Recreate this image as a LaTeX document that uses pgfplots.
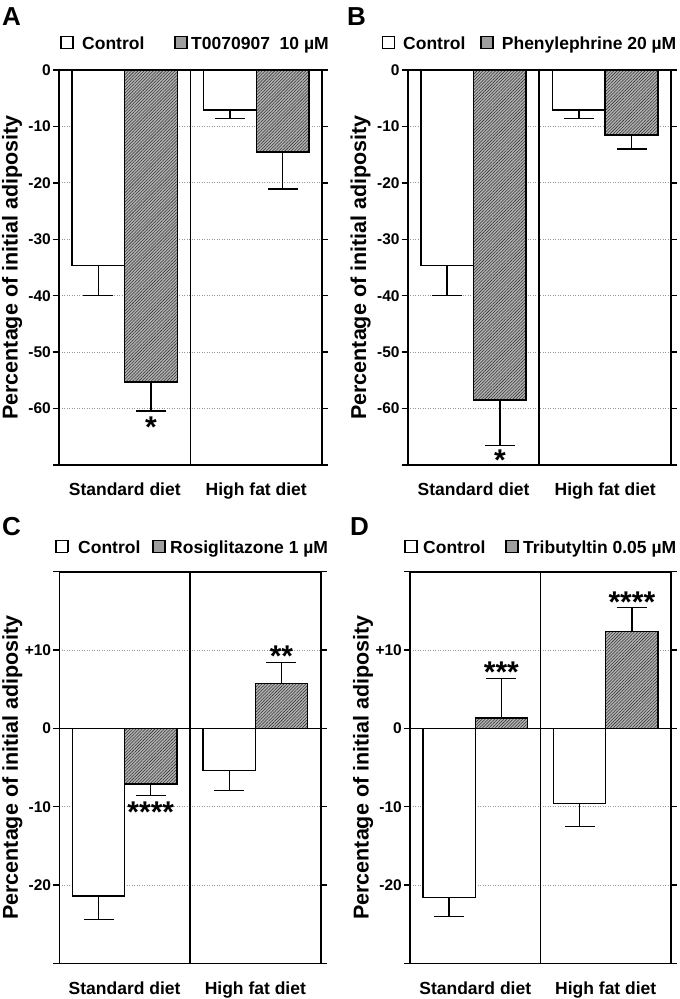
\documentclass[border=0pt]{standalone}
\usepackage{pgfplots}
\pgfplotsset{compat=1.18}
\usetikzlibrary{patterns.meta}
\usepackage{fontspec}
\setmainfont{Liberation Sans}
\definecolor{barfill}{gray}{0.70}
\definecolor{legfill}{gray}{0.62}
\newcommand\lbox[1]{{\setlength\fboxsep{0pt}\setlength\fboxrule{1.4pt}\fcolorbox{black}{#1}{\rule{0pt}{10.5pt}\rule{10.5pt}{0pt}}}}
\newcommand\legfont{\fontsize{17.5}{20}\selectfont\bfseries}
\newcommand\catfont{\fontsize{17.5}{20}\selectfont\bfseries}
\newcommand\tickfont{\fontsize{15.5}{18}\selectfont\bfseries}
\newcommand\starfont{\fontsize{30}{30}\selectfont\bfseries}
\pgfplotsset{
 panel/.style={
  scale only axis, anchor=north west,
  ybar=0pt, bar width=0.4,
  xmin=-0.5, xmax=1.5,
  xtick={0,1}, xticklabels={{\catfont Standard diet},{\catfont High fat diet}},
  x tick style={draw=none},
  xticklabel style={inner sep=0pt, yshift=-12pt},
  yticklabel style={inner sep=0pt, xshift=-2pt},
  tick align=outside, major tick length=6pt,
  y tick style={line width=1.3pt, black},
  axis line style={line width=1.6pt},
  ymajorgrids, major grid style={dash pattern=on 1pt off 1.5pt, gray!80, line width=0.8pt},
  error bars/y dir=both, error bars/y explicit,
  error bars/error bar style={line width=1.4pt, black},
  error bars/error mark options={rotate=90, mark size=15pt, line width=1.4pt, black},
  clip=false,
 },
 ctrl/.style={fill=white, draw=black, line width=1.4pt},
 trt/.style={fill=barfill, draw=black, line width=1.4pt, postaction={pattern={Lines[angle=45,distance=2.2pt,line width=0.55pt]}, pattern color=black!80}},
}
\begin{document}
\begin{tikzpicture}
\path[use as bounding box] (0pt,0pt) rectangle (680pt,-999pt);
% ---------- A ----------
\begin{axis}[panel, at={(59pt,-70pt)}, width=263pt, height=395pt,
  ymin=-70, ymax=0, ytick={-70,-60,-50,-40,-30,-20,-10,0},
  yticklabels={,{\tickfont -60},{\tickfont -50},{\tickfont -40},{\tickfont -30},{\tickfont -20},{\tickfont -10},{\tickfont 0}}]
\addplot[ctrl] coordinates {(0,-34.6) += (0,0) -= (0,5.4) (1,-7.1) += (0,0) -= (0,1.5)};
\addplot[trt] coordinates {(0,-55.3) += (0,0) -= (0,5.1) (1,-14.5) += (0,0) -= (0,6.6)};
\draw[line width=1.8pt] (axis cs:0.5,-70) -- (axis cs:0.5,0);
\node[anchor=north, inner sep=0pt, font=\starfont] at (axis cs:0.2,-61.5) {*};
\end{axis}
% ---------- B ----------
\begin{axis}[panel, at={(407.7pt,-70pt)}, width=263.3pt, height=395pt,
  ymin=-70, ymax=0, ytick={-70,-60,-50,-40,-30,-20,-10,0},
  yticklabels={,{\tickfont -60},{\tickfont -50},{\tickfont -40},{\tickfont -30},{\tickfont -20},{\tickfont -10},{\tickfont 0}}]
\addplot[ctrl] coordinates {(0,-34.6) += (0,0) -= (0,5.4) (1,-7.1) += (0,0) -= (0,1.5)};
\addplot[trt] coordinates {(0,-58.5) += (0,0) -= (0,8.0) (1,-11.5) += (0,0) -= (0,2.5)};
\draw[line width=1.8pt] (axis cs:0.5,-70) -- (axis cs:0.5,0);
\node[anchor=north, inner sep=0pt, font=\starfont] at (axis cs:0.2,-67.3) {*};
\end{axis}
% ---------- C ----------
\begin{axis}[panel, at={(59.3pt,-571.7pt)}, width=261.4pt, height=391.6pt,
  ymin=-30, ymax=20, ytick={-30,-20,-10,0,10,20},
  yticklabels={,{\tickfont -20},{\tickfont -10},{\tickfont 0},{\tickfont +10},}]
\addplot[ctrl] coordinates {(0,-21.4) += (0,0) -= (0,3.0) (1,-5.4) += (0,0) -= (0,2.5)};
\addplot[trt] coordinates {(0,-7.1) += (0,0) -= (0,1.5) (1,5.7) += (0,2.7) -= (0,0)};
\draw[line width=1.8pt] (axis cs:0.5,-30) -- (axis cs:0.5,20);
\draw[line width=1.5pt] (axis cs:-0.5,0) -- (axis cs:1.5,0);
\node[anchor=north, inner sep=0pt, font=\starfont] at (axis cs:0.2,-9.3) {****};
\node[anchor=north, inner sep=0pt, font=\starfont] at (axis cs:1.2,10.6) {**};
\end{axis}
% ---------- D ----------
\begin{axis}[panel, at={(410pt,-571.7pt)}, width=261pt, height=391.6pt,
  ymin=-30, ymax=20, ytick={-30,-20,-10,0,10,20},
  yticklabels={,{\tickfont -20},{\tickfont -10},{\tickfont 0},{\tickfont +10},}]
\addplot[ctrl] coordinates {(0,-21.6) += (0,0) -= (0,2.4) (1,-9.6) += (0,0) -= (0,2.9)};
\addplot[trt] coordinates {(0,1.3) += (0,5.05) -= (0,0) (1,12.35) += (0,3.05) -= (0,0)};
\draw[line width=1.8pt] (axis cs:0.5,-30) -- (axis cs:0.5,20);
\draw[line width=1.5pt] (axis cs:-0.5,0) -- (axis cs:1.5,0);
\node[anchor=north, inner sep=0pt, font=\starfont] at (axis cs:0.2,8.5) {***};
\node[anchor=north, inner sep=0pt, font=\starfont] at (axis cs:1.2,17.5) {****};
\end{axis}
% ---------- panel letters ----------
\begin{scope}[every node/.style={inner sep=0pt, anchor=base west, font=\fontsize{26}{26}\selectfont\bfseries}]
\node at (2pt,-25pt) {A};
\node at (347pt,-25pt) {B};
\node at (2pt,-535pt) {C};
\node at (350pt,-535pt) {D};
\end{scope}
% ---------- y labels ----------
\begin{scope}[every node/.style={inner sep=0pt, rotate=90, anchor=base, font=\fontsize{21.5}{24}\selectfont\bfseries}]
\node at (17.5pt,-267.5pt) {Percentage of initial adiposity};
\node at (366.2pt,-267.5pt) {Percentage of initial adiposity};
\node at (17.8pt,-767.5pt) {Percentage of initial adiposity};
\node at (368.5pt,-767.5pt) {Percentage of initial adiposity};
\end{scope}
% ---------- legends ----------
\begin{scope}[every node/.style={inner sep=0pt, anchor=base west, font=\legfont}]
\node at (60pt,-47.6pt) {\lbox{white}};
\node at (82pt,-49pt) {Control};
\node at (174pt,-47.6pt) {\lbox{legfill}};
\node at (191pt,-49pt) {T0070907\ \ 10 µM};
\node at (381.7pt,-47.6pt) {\lbox{white}};
\node at (403pt,-49.5pt) {Control};
\node at (480pt,-47.6pt) {\lbox{legfill}};
\node at (501.7pt,-49.5pt) {Phenylephrine 20 µM};
\node at (55pt,-551.5pt) {\lbox{white}};
\node at (78pt,-553pt) {Control};
\node at (152pt,-551.5pt) {\lbox{legfill}};
\node at (170pt,-553pt) {Rosiglitazone 1 µM};
\node at (404pt,-551.5pt) {\lbox{white}};
\node at (423pt,-553pt) {Control};
\node at (505pt,-551.5pt) {\lbox{legfill}};
\node at (523pt,-553pt) {Tributyltin 0.05 µM};
\end{scope}
\end{tikzpicture}
\end{document}
